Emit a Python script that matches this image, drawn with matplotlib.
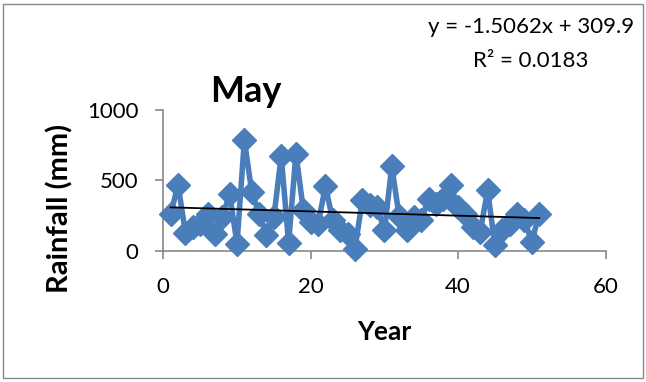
import matplotlib
matplotlib.use("Agg")
import matplotlib.pyplot as plt
from matplotlib.patches import Rectangle
import numpy as np

years = list(range(1, 52))
rainfall = [259, 469, 130, 170, 189, 260, 123, 240, 400, 52,
            783, 417, 264, 111, 240, 670, 57, 689, 288, 205,
            193, 457, 217, 146, 118, 17, 358, 323, 311, 146,
            599, 245, 146, 240, 217, 370, 335, 370, 465, 311,
            264, 170, 135, 429, 40, 146, 193, 264, 217, 64, 264]
slope, intercept = -1.5062, 309.9
eq_text = "y = -1.5062x + 309.9"
r2_text = "R² = 0.0183"
xticks = [0, 20, 40, 60]
yticks = [0, 500, 1000]

plt.rcParams['font.family'] = ['Lato', 'DejaVu Sans']

W, H = 646, 382
fig = plt.figure(figsize=(W/100, H/100), dpi=100)
fig.patches.append(Rectangle((3/W, 4/H), 640/W, 374/H, transform=fig.transFigure,
                             fill=False, edgecolor='#888888', linewidth=1))
ax = fig.add_axes([163.3/W, 1-251/H, 442.2/W, 141.5/H])

blue = '#4A7EBB'
ax.plot(years, rainfall, color=blue, linewidth=4, marker='D', markersize=12,
        markerfacecolor=blue, markeredgecolor=blue, zorder=3, clip_on=False)
tx = np.array([years[0], years[-1]])
ax.plot(tx, slope*tx + intercept, color='black', linewidth=1.3, zorder=4)

ax.set_xlim(0, 60)
ax.set_ylim(0, 1000)
ax.set_xticks(xticks)
ax.set_yticks(yticks)
for s in ['top', 'right']:
    ax.spines[s].set_visible(False)
for s in ['left', 'bottom']:
    ax.spines[s].set_color('#888888')
    ax.spines[s].set_linewidth(1.2)
ax.tick_params(axis='both', colors='#888888', length=6, width=1.2, labelcolor='black', labelsize=16)
ax.tick_params(axis='x', pad=12.5)
ax.tick_params(axis='y', pad=12)

fig.text(384/W, 1-340/H, 'Year', fontsize=19, fontweight='bold', ha='center', va='baseline')
fig.text(60/W, 1-208/H, 'Rainfall (mm)', fontsize=21, fontweight='bold', ha='center',
         va='center', rotation=90)

fig.text(246/W, 1-102/H, 'May', fontsize=26, fontweight='bold', ha='center', va='baseline')
fig.text(531/W, 1-33/H, eq_text, fontsize=16, ha='center', va='baseline')
fig.text(531/W, 1-67/H, r2_text, fontsize=16, ha='center', va='baseline')

fig.savefig('out.png', dpi=100)
